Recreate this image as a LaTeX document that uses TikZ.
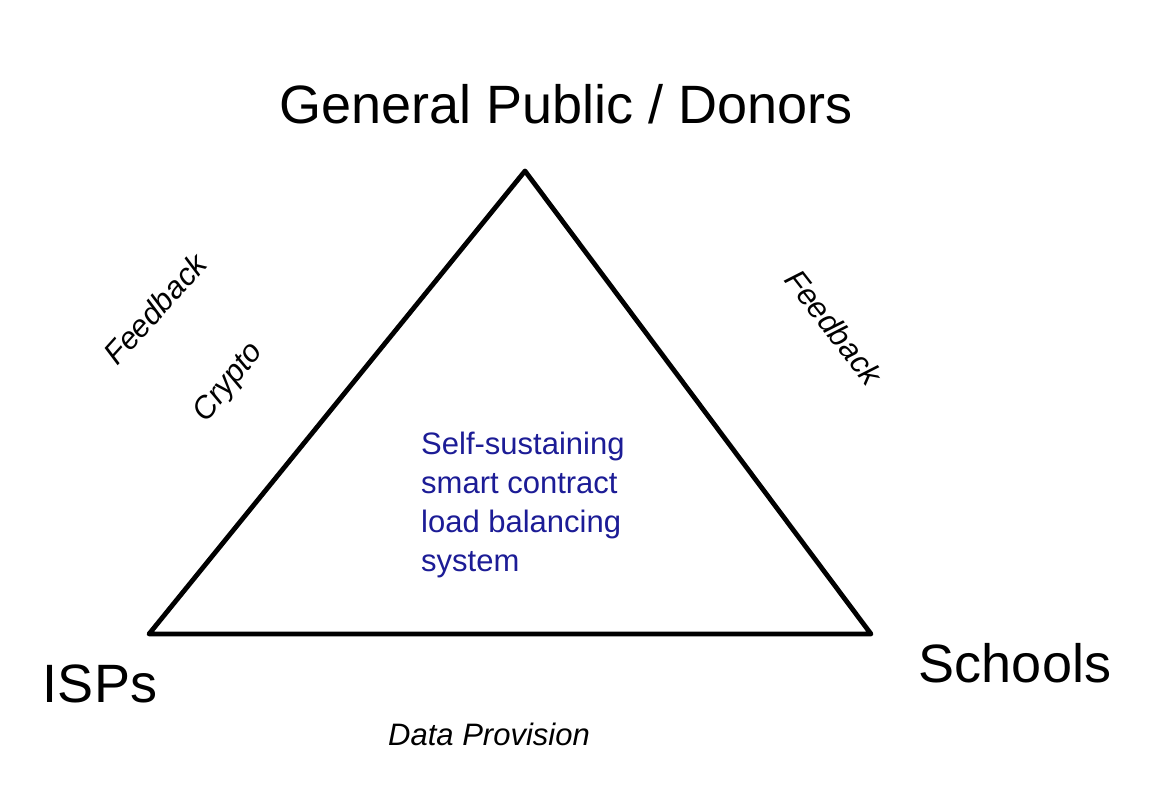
\documentclass[tikz,border=0pt]{standalone}
\usepackage{fontspec}
\setmainfont{Liberation Sans}
\definecolor{centerblue}{RGB}{28,28,150}
\begin{document}
\begin{tikzpicture}[x=1pt,y=-1pt,
  big/.style={font=\fontsize{54}{60}\selectfont, inner sep=0pt},
  small/.style={font=\fontsize{31}{36}\selectfont\itshape, inner sep=0pt},
  tri/.style={line width=4.8pt, line join=round}]
\useasboundingbox[fill=white] (0,0) rectangle (1156,802);
\coordinate (top) at (525,171);
\coordinate (left) at (149,634);
\coordinate (right) at (871,634);
\draw[tri] (top) -- (right) -- (left) -- cycle;
\node[big, anchor=base] (donors) at (566,124) {General Public / Donors};
\node[big, anchor=base] (isps) at (100,702) {ISPs};
\node[big, anchor=base] (schools) at (1015,682) {Schools};
\node[small, anchor=base] (data) at (489,745) {Data Provision};
\node[small, rotate=48] (fbl) at (155,309) {Feedback};
\node[small, rotate=51] (crypto) at (229,383) {Crypto};
\node[small, rotate=-52] (fbr) at (834,327) {Feedback};
\node[font=\fontsize{31}{39}\selectfont, text=centerblue, align=left, anchor=north west, inner sep=0pt] (center) at (421,432) {Self-sustaining\\smart contract\\load balancing\\system};
\end{tikzpicture}
\end{document}
